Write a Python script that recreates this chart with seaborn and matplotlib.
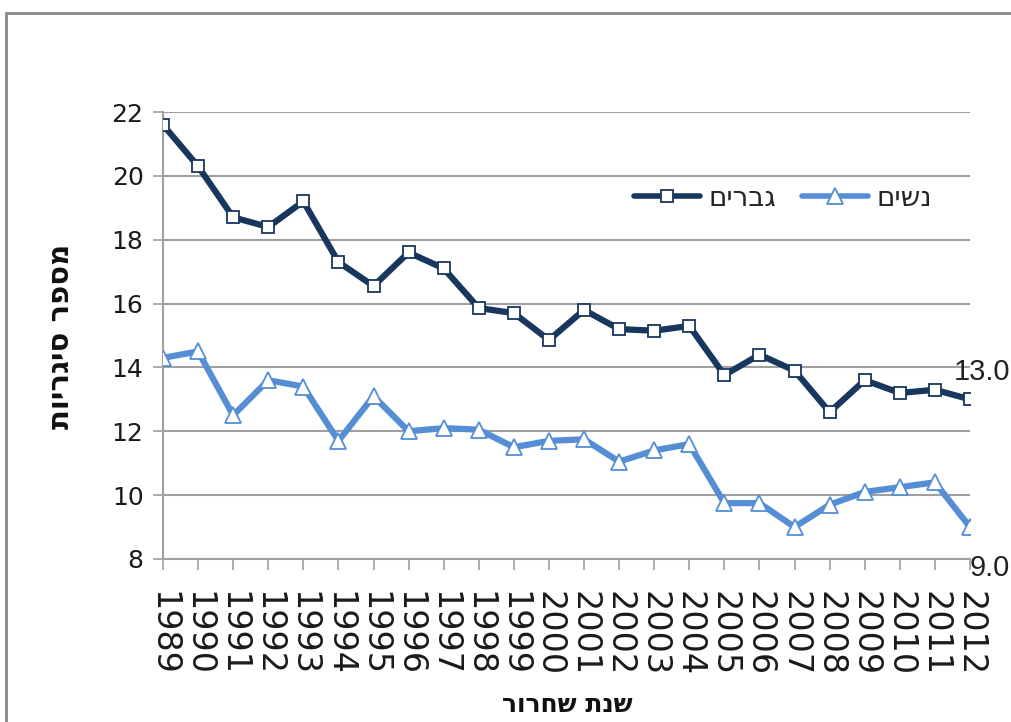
import matplotlib
matplotlib.use("Agg")
import matplotlib.pyplot as plt
from matplotlib.lines import Line2D
import seaborn as sns
import pandas as pd

# Average number of cigarettes per day, by year of discharge
years = list(range(1989, 2013))
men = [21.6, 20.3, 18.7, 18.4, 19.2, 17.3, 16.55, 17.6, 17.1, 15.86, 15.7, 14.86,
       15.8, 15.2, 15.15, 15.3, 13.76, 14.4, 13.9, 12.6, 13.6, 13.2, 13.3, 13.0]
women = [14.3, 14.5, 12.5, 13.6, 13.4, 11.7, 13.1, 12.0, 12.1, 12.05, 11.5, 11.7,
         11.75, 11.05, 11.4, 11.6, 9.75, 9.75, 9.0, 9.7, 10.1, 10.25, 10.4, 9.0]
series_names = ["גברים", "נשים"]
y_title = "מספר סיגריות"
x_title = "שנת שחרור"


def rtl(s):
    # matplotlib lays glyphs out left-to-right, so Hebrew is reversed for display
    return s[::-1]


df = pd.DataFrame({
    "year": years * 2,
    "value": men + women,
    "series": [series_names[0]] * len(years) + [series_names[1]] * len(years),
})

sns.set_style("white")
plt.rcParams["font.family"] = ["DejaVu Sans"]

fig = plt.figure(figsize=(10.11, 7.22), dpi=100)
ax = fig.add_axes([163 / 1011, 1 - 559 / 722, (970 - 163) / 1011, (559 - 112) / 722])

men_color = "#17375E"
women_color = "#558ED5"

sns.lineplot(data=df[df.series == series_names[0]], x="year", y="value", ax=ax,
             color=men_color, lw=4.5, marker="s", markersize=9,
             markerfacecolor="white", markeredgecolor=men_color, markeredgewidth=1.3,
             label=rtl(series_names[0]), zorder=4)
sns.lineplot(data=df[df.series == series_names[1]], x="year", y="value", ax=ax,
             color=women_color, lw=4.5, marker="^", markersize=11,
             markerfacecolor="white", markeredgecolor=women_color, markeredgewidth=1.3,
             label=rtl(series_names[1]), zorder=3)

ax.set_xlim(years[0], years[-1])
ax.set_ylim(8, 22)
ax.set_yticks(range(8, 23, 2))
ax.set_xticks(years)
ax.set_xticklabels([str(y) for y in years], rotation=-90)

grid_gray = "#A0A0A0"
ax.grid(axis="y", color=grid_gray, lw=1.5)
ax.grid(axis="x", visible=False)
for side in ["top", "right"]:
    ax.spines[side].set_visible(False)
for side in ["left", "bottom"]:
    ax.spines[side].set_color(grid_gray)
    ax.spines[side].set_linewidth(1.5)

ax.tick_params(axis="y", which="major", direction="out", length=7, width=1.2,
               color=grid_gray, pad=7, labelsize=18, labelcolor="#1a1a1a", left=True)
ax.tick_params(axis="x", which="major", direction="out", length=8, width=1.2,
               color=grid_gray, pad=15, labelsize=24, labelcolor="#1a1a1a", bottom=True)

ax.set_xlabel("")
ax.set_ylabel("")
fig.text(61 / 1011, 1 - 336 / 722, rtl(y_title), rotation=90, ha="center", va="center",
         fontsize=21, fontweight="bold", color="#111111")
fig.text(567 / 1011, 1 - 705 / 722, rtl(x_title), ha="center", va="center",
         fontsize=18, fontweight="bold", color="#111111")

# Value labels at the last year
label_font = dict(fontsize=21, family=["Liberation Sans", "DejaVu Sans"], color="#222222")
ax.annotate(f"{men[-1]:.1f}", xy=(years[-1], men[-1]), xytext=(-12, 19.5),
            textcoords="offset points", ha="left", va="center",
            annotation_clip=False, **label_font)
ax.annotate(f"{women[-1]:.1f}", xy=(years[-1], women[-1]), xytext=(0, -29.5),
            textcoords="offset points", ha="left", va="center",
            annotation_clip=False, **label_font)

leg = ax.legend(loc="center", bbox_to_anchor=(783 / 1011, 1 - 198 / 722),
                bbox_transform=fig.transFigure, ncol=2, frameon=False,
                fontsize=20, handlelength=2.4, handletextpad=0.3, columnspacing=0.9)
for h in leg.get_lines():
    h.set_linewidth(4.0)

# Outer chart border (left and top edges)
border_x = 5.5 / 1011
border_y = 1 - 13 / 722
fig.add_artist(Line2D([border_x, border_x], [0, border_y], transform=fig.transFigure,
                      color="#888888", lw=2.0))
fig.add_artist(Line2D([border_x, 1.0], [border_y, border_y], transform=fig.transFigure,
                      color="#888888", lw=2.0))

fig.savefig("out.png", dpi=100)
